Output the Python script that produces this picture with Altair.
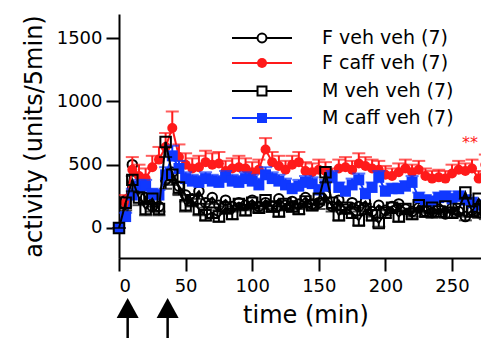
import altair as alt
import pandas as pd

# ---------------- data ----------------
times = list(range(0, 280, 5))

f_veh = [0, 220, 500, 330, 240, 170, 170, 380, 440, 330, 260, 230, 290, 200, 240, 180,
         220, 170, 200, 180, 220, 170, 200, 170, 230, 180, 210, 190, 240, 190, 200, 260,
         170, 220, 150, 200, 170, 210, 130, 180, 140, 170, 190, 150, 130, 160, 130, 120,
         150, 110, 160, 130, 90, 140, 120, 110]
f_veh_err = [0, 50, 90, 60, 50, 40, 40, 70, 80, 60, 50, 50, 60, 40, 50, 40,
             50, 40, 50, 40, 50, 40, 50, 40, 50, 40, 50, 40, 50, 40, 50, 60,
             40, 50, 40, 50, 40, 50, 40, 40, 40, 40, 50, 40, 40, 40, 40, 40,
             40, 30, 40, 40, 30, 40, 40, 40]

f_caff = [0, 200, 460, 410, 390, 480, 540, 640, 790, 560, 500, 470, 480, 520, 500, 510,
          450, 470, 480, 470, 440, 460, 620, 520, 490, 460, 500, 520, 450, 440, 460, 450,
          410, 470, 480, 460, 510, 490, 470, 460, 420, 410, 440, 470, 440, 460, 410, 390,
          400, 390, 430, 460, 450, 470, 390, 500]
f_caff_err = [0, 60, 100, 90, 80, 90, 100, 110, 130, 100, 90, 80, 90, 90, 90, 90,
              80, 80, 90, 80, 80, 80, 90, 80, 80, 70, 70, 80, 70, 70, 80, 70,
              60, 70, 80, 70, 80, 70, 70, 70, 70, 60, 70, 70, 60, 70, 60, 60,
              60, 60, 70, 70, 60, 70, 60, 80]

m_veh = [0, 200, 380, 240, 150, 230, 150, 680, 420, 320, 180, 220, 150, 100, 120, 90,
         160, 110, 190, 140, 200, 160, 220, 170, 130, 190, 170, 150, 210, 180, 230, 440,
         200, 100, 160, 120, 60, 150, 100, 40, 120, 160, 90, 150, 110, 180, 130, 160,
         130, 170, 120, 150, 280, 130, 230, 150]
m_veh_err = [0, 60, 90, 60, 50, 60, 50, 120, 80, 60, 50, 50, 50, 40, 40, 40,
             50, 40, 50, 40, 50, 40, 50, 40, 40, 50, 40, 40, 50, 40, 50, 80,
             50, 40, 40, 40, 40, 40, 40, 30, 40, 40, 40, 40, 40, 50, 40, 40,
             40, 40, 40, 40, 50, 40, 50, 40]

m_caff = [0, 90, 260, 330, 330, 270, 260, 420, 570, 470, 390, 370, 360, 390, 370, 360,
          400, 370, 360, 390, 370, 340, 420, 390, 370, 340, 310, 330, 360, 350, 300, 330,
          400, 320, 290, 340, 380, 270, 320, 400, 290, 310, 310, 330, 360, 240, 220, 210,
          240, 250, 230, 250, 220, 200, 180, 170]
m_caff_err = [0, 30, 50, 50, 50, 40, 40, 60, 80, 60, 50, 50, 50, 50, 50, 50,
              50, 50, 50, 50, 50, 50, 60, 50, 50, 50, 40, 50, 50, 50, 40, 50,
              50, 40, 40, 50, 50, 40, 40, 50, 40, 40, 40, 40, 50, 40, 40, 40,
              40, 40, 40, 40, 40, 40, 40, 40]

series_names = ["F veh veh (7)", "F caff veh (7)", "M veh veh (7)", "M caff veh (7)"]
series_colors = ["#000000", "#ff1a1a", "#000000", "#1038ff"]
injection_times = [6.5, 36.5]
x_ticks = [0, 50, 100, 150, 200, 250]
y_ticks = [0, 500, 1000, 1500]

FONT = "DejaVu Sans"
X_SCALE = alt.Scale(domain=[0, 280], nice=False, zero=False)
Y_SCALE = alt.Scale(domain=[-237, 1690], nice=False, zero=False)
X_AXIS = alt.Axis(values=x_ticks, title="time  (min)", grid=False, format="d")
Y_AXIS = alt.Axis(values=y_ticks, title="activity (units/5min)", grid=False, format="d")


def X(field="t"):
    return alt.X(f"{field}:Q", scale=X_SCALE, axis=X_AXIS)


def Y(field="v"):
    return alt.Y(f"{field}:Q", scale=Y_SCALE, axis=Y_AXIS)


def frame(vals, errs, up):
    df = pd.DataFrame({"t": times, "v": vals, "e": errs})
    df["hi"] = df["v"] + df["e"] if up else df["v"] - df["e"]
    return df


def series_layers(df, color, shape, filled, size):
    base = alt.Chart(df)
    err = base.mark_rule(color=color, strokeWidth=2).encode(x=X(), y=Y("v"), y2="hi:Q")
    cap = base.mark_tick(color=color, thickness=2, size=13, orient="horizontal").encode(
        x=X(), y=Y("hi"))
    line = base.mark_line(color=color, strokeWidth=2).encode(x=X(), y=Y())
    if filled:
        pts = base.mark_point(shape=shape, filled=True, color=color, size=size,
                              opacity=1).encode(x=X(), y=Y())
    else:
        pts = base.mark_point(shape=shape, filled=False, color=color, size=size,
                              strokeWidth=2, opacity=1).encode(x=X(), y=Y())
    return [line, err, cap, pts]


layers = []
layers += series_layers(frame(f_veh, f_veh_err, False), series_colors[0], "circle", False, 90)
layers += series_layers(frame(f_caff, f_caff_err, True), series_colors[1], "circle", True, 100)
layers += series_layers(frame(m_caff, m_caff_err, True), series_colors[3], "square", True, 120)
layers += series_layers(frame(m_veh, m_veh_err, False), series_colors[2], "square", False, 110)

# ---------------- legend (drawn by hand) ----------------
one = pd.DataFrame({"k": [0]})
leg_y = [24, 49, 77, 104]
leg_shapes = ["circle", "circle", "square", "square"]
leg_filled = [False, True, False, True]
for name, col, shp, fil, yy in zip(series_names, series_colors, leg_shapes, leg_filled, leg_y):
    layers.append(alt.Chart(one).mark_rule(color=col, strokeWidth=2).encode(
        x=alt.value(113), x2=alt.value(173), y=alt.value(yy)))
    if fil:
        layers.append(alt.Chart(one).mark_point(shape=shp, filled=True, color=col, size=100,
                                                opacity=1).encode(x=alt.value(143), y=alt.value(yy)))
    else:
        layers.append(alt.Chart(one).mark_point(shape=shp, filled=True, fill="white", stroke=col,
                                                strokeWidth=2, size=80, opacity=1).encode(
            x=alt.value(143), y=alt.value(yy)))
    layers.append(alt.Chart(pd.DataFrame({"label": [name]})).mark_text(
        align="left", baseline="middle", font=FONT, fontSize=19, color="black").encode(
        x=alt.value(203), y=alt.value(yy), text="label:N"))

# significance mark
layers.append(alt.Chart(pd.DataFrame({"label": ["**"]})).mark_text(
    align="left", baseline="alphabetic", font=FONT, fontSize=16, color="#ff1a1a").encode(
    x=alt.value(343), y=alt.value(134), text="label:N"))

# injection arrows
arr = pd.DataFrame({"t": injection_times})
layers.append(alt.Chart(arr).mark_rule(color="black", strokeWidth=2.5).encode(
    x=X(), y=alt.value(300), y2=alt.value(345)))
layers.append(alt.Chart(arr).mark_point(shape="M-1,0.9L0,-0.9L1,0.9Z", filled=True,
                                        color="black", size=484, opacity=1).encode(
    x=X(), y=alt.value(294)))

chart = alt.layer(*layers).properties(
    width=373, height=244,
    autosize=alt.AutoSizeParams(type="none"),
    padding={"left": 111, "top": 6, "right": -11, "bottom": 80},
).configure_view(stroke=None).configure_axis(
    domainColor="black", domainWidth=2, tickColor="black", tickWidth=2, tickSize=13,
    labelFont=FONT, labelFontSize=18, labelColor="black",
    titleFont=FONT, titleFontSize=24, titleFontWeight="normal", titleColor="black",
).configure_axisY(labelPadding=4, titlePadding=10).configure_axisX(
    labelPadding=6, titlePadding=8)

chart.save("out.html", embed_options={"renderer": "svg", "actions": False})
